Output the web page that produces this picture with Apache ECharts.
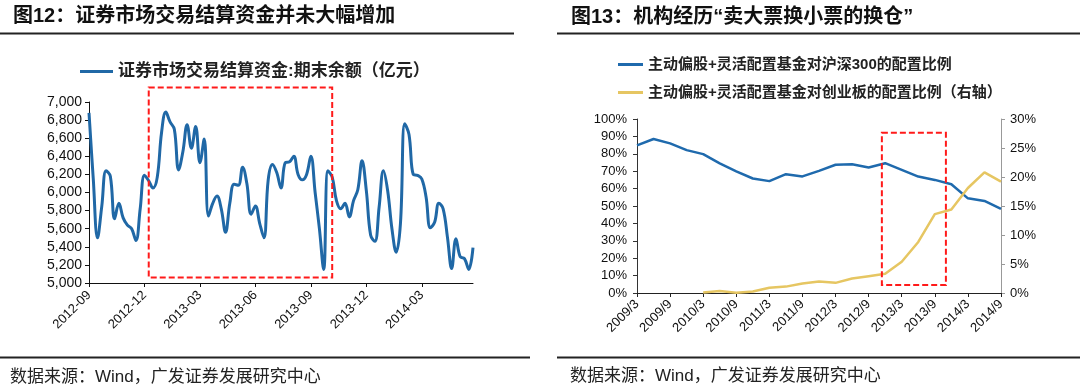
<!DOCTYPE html>
<html>
<head>
<meta charset="utf-8">
<script src="https://cdn.jsdelivr.net/npm/echarts@6/dist/echarts.min.js"></script>
<style>
html,body{margin:0;padding:0;background:#fff;}
#c{width:1080px;height:390px;}
</style>
</head>
<body>
<div id="c"></div>
<script>
// ---------- Data ----------
const weeks = [
  '2012-09-07','2012-09-14','2012-09-21','2012-09-28','2012-10-05','2012-10-12','2012-10-19','2012-10-26','2012-11-02','2012-11-09',
  '2012-11-16','2012-11-23','2012-11-30','2012-12-07','2012-12-14','2012-12-21','2012-12-28','2013-01-04','2013-01-11','2013-01-18',
  '2013-01-25','2013-02-01','2013-02-08','2013-02-15','2013-02-22','2013-03-01','2013-03-08','2013-03-15','2013-03-22','2013-03-29',
  '2013-04-05','2013-04-12','2013-04-19','2013-04-26','2013-05-03','2013-05-10','2013-05-17','2013-05-24','2013-05-31','2013-06-07',
  '2013-06-14','2013-06-21','2013-06-28','2013-07-05','2013-07-12','2013-07-19','2013-07-26','2013-08-02','2013-08-09','2013-08-16',
  '2013-08-23','2013-08-30','2013-09-06','2013-09-13','2013-09-20','2013-09-27','2013-10-04','2013-10-11','2013-10-18','2013-10-25',
  '2013-11-01','2013-11-08','2013-11-15','2013-11-22','2013-11-29','2013-12-06','2013-12-13','2013-12-20','2013-12-27','2014-01-03',
  '2014-01-10','2014-01-17','2014-01-24','2014-01-31','2014-02-07','2014-02-14','2014-02-21','2014-02-28','2014-03-07','2014-03-14',
  '2014-03-21','2014-03-28','2014-04-04','2014-04-11','2014-04-18','2014-04-25','2014-05-02','2014-05-09','2014-05-16','2014-05-23',
  '2014-05-30'
];
const settlementFunds = [
  6880, 6150, 5500, 5850, 6240, 6180, 5710, 5880, 5720, 5640,
  5600, 5470, 5820, 6190, 6130, 6050, 6170, 6660, 6890, 6780,
  6700, 6250, 6450, 6750, 6490, 6730, 6330, 6590, 5740, 5880,
  5960, 5820, 5560, 5880, 6090, 6080, 6280, 6100, 5760, 5850,
  5660, 5500, 6140, 6310, 6220, 6050, 6330, 6340, 6400, 6200,
  6140, 6200, 6400, 6000, 5600, 5150, 6240, 6170, 5910, 5820,
  5880, 5730, 5910, 6030, 6350, 6020, 5530, 5460, 5840, 6240,
  6020, 5600, 5340, 5660, 6760, 6640, 6200, 6190, 6150, 5950,
  5610, 5670, 5880, 5820, 5510, 5160, 5490, 5290, 5270, 5150,
  5390
];
const quarters = [
  '2009/3','2009/6','2009/9','2009/12','2010/3','2010/6','2010/9','2010/12',
  '2011/3','2011/6','2011/9','2011/12','2012/3','2012/6','2012/9','2012/12',
  '2013/3','2013/6','2013/9','2013/12','2014/3','2014/6','2014/9'
];
const hs300Share = [
  84.8, 88.5, 86.0, 82.1, 79.8, 74.5, 69.9, 65.8,
  64.3, 68.3, 67.0, 70.2, 73.7, 74.0, 72.1, 74.6,
  70.8, 66.9, 65.0, 62.5, 54.4, 52.9, 48.3
];
const gemShare = [
  null, null, null, null, 0.1, 0.35, 0.05, 0.25,
  0.9, 1.1, 1.65, 2.0, 1.75, 2.5, 2.9, 3.3,
  5.4, 8.8, 13.6, 14.4, 18.1, 20.8, 19.2
];
const fundsTickLabels = { min: 5000, max: 7000, step: 200 };
const leftPctTicks = { min: 0, max: 100, step: 10 };
const rightPctTicks = { min: 0, max: 30, step: 5 };
// highlighted windows (data space): [x from, x to, y low, y high]
const leftBox = [14, 57, 5060, 7160];
const rightBox = [14.8, 18.67, 4.6, 92.1];

const titleLeft = '图12：证券市场交易结算资金并未大幅增加';
const titleRight = '图13：机构经历“卖大票换小票的换仓”';
const nameFunds = '证券市场交易结算资金:期末余额（亿元）';
const nameHs300 = '主动偏股+灵活配置基金对沪深300的配置比例';
const nameGem = '主动偏股+灵活配置基金对创业板的配置比例（右轴）';
const sourceText = '数据来源：Wind，广发证券发展研究中心';

// ---------- Chart ----------
const FONT = "'Liberation Sans', 'Noto Sans CJK SC', sans-serif";
const chart = echarts.init(document.getElementById('c'));
const fmtThousands = v => String(v).replace(/\B(?=(\d{3})+(?!\d))/g, ',');
const axisText = { fontSize: 13, color: '#111', fontFamily: FONT };

function staticGraphics() {
  return [
    { type: 'text', x: 13, y: 16, style: { text: titleLeft, fontSize: 20, fontWeight: 'bold', fontFamily: FONT, fill: '#111', verticalAlign: 'middle' } },
    { type: 'text', x: 571, y: 17, style: { text: titleRight, fontSize: 20, fontWeight: 'bold', fontFamily: FONT, fill: '#111', verticalAlign: 'middle' } },
    { type: 'line', shape: { x1: 0, y1: 33.5, x2: 514, y2: 33.5 }, style: { stroke: '#222', lineWidth: 2 } },
    { type: 'line', shape: { x1: 557, y1: 33.5, x2: 1080, y2: 33.5 }, style: { stroke: '#222', lineWidth: 2 } },
    { type: 'line', shape: { x1: 0, y1: 357.5, x2: 530, y2: 357.5 }, style: { stroke: '#222', lineWidth: 2 } },
    { type: 'line', shape: { x1: 557, y1: 357.5, x2: 1080, y2: 357.5 }, style: { stroke: '#222', lineWidth: 2 } },
    { type: 'text', x: 10, y: 377, style: { text: sourceText, fontSize: 17, fontFamily: FONT, fill: '#222', verticalAlign: 'middle' } },
    { type: 'text', x: 570, y: 376, style: { text: sourceText, fontSize: 17, fontFamily: FONT, fill: '#222', verticalAlign: 'middle' } }
  ];
}

const option = {
  animation: false,
  backgroundColor: '#ffffff',
  grid: [
    { left: 89, top: 102, width: 384, height: 181 },
    { left: 637, top: 119, width: 364, height: 174 }
  ],
  legend: [
    {
      data: [nameFunds], left: 80, top: 63, padding: 0, icon: 'rect', itemWidth: 33, itemHeight: 3,
      textStyle: { fontSize: 17, fontWeight: 'bold', color: '#222', fontFamily: FONT }
    },
    {
      data: [nameHs300, nameGem], orient: 'vertical', left: 618, top: 57, padding: 0, icon: 'rect',
      itemWidth: 25, itemHeight: 3, itemGap: 13,
      textStyle: { fontSize: 15, fontWeight: 'bold', color: '#222', fontFamily: FONT }
    }
  ],
  xAxis: [
    {
      gridIndex: 0, type: 'category', data: weeks, boundaryGap: false,
      axisLine: { lineStyle: { color: '#111', width: 1 } },
      axisTick: { interval: 12, length: 4, lineStyle: { color: '#111' } },
      axisLabel: Object.assign({ interval: 12, rotate: 45, margin: 10, formatter: v => v.slice(0, 7) }, axisText)
    },
    {
      gridIndex: 1, type: 'category', data: quarters, boundaryGap: false,
      axisLine: { lineStyle: { color: '#222', width: 1 } },
      axisTick: { interval: 1, length: 4, lineStyle: { color: '#222' } },
      axisLabel: Object.assign({ interval: 1, rotate: 45, margin: 9 }, axisText)
    }
  ],
  yAxis: [
    {
      gridIndex: 0, type: 'value', min: fundsTickLabels.min, max: fundsTickLabels.max, interval: fundsTickLabels.step,
      axisLine: { show: true, lineStyle: { color: '#111', width: 1 } },
      axisTick: { show: true, length: 4, lineStyle: { color: '#111' } },
      splitLine: { show: false },
      axisLabel: Object.assign({}, axisText, { margin: 7, fontSize: 14, formatter: fmtThousands })
    },
    {
      gridIndex: 1, type: 'value', min: leftPctTicks.min, max: leftPctTicks.max, interval: leftPctTicks.step,
      axisLine: { show: true, lineStyle: { color: '#333', width: 1 } },
      axisTick: { show: true, length: 4, lineStyle: { color: '#333' } },
      splitLine: { show: false },
      axisLabel: Object.assign({ margin: 10, formatter: '{value}%' }, axisText)
    },
    {
      gridIndex: 1, type: 'value', position: 'right', min: rightPctTicks.min, max: rightPctTicks.max, interval: rightPctTicks.step,
      axisLine: { show: true, lineStyle: { color: '#999', width: 1 } },
      axisTick: { show: true, length: 4, lineStyle: { color: '#999' } },
      splitLine: { show: false },
      axisLabel: Object.assign({ margin: 9, formatter: '{value}%' }, axisText)
    }
  ],
  series: [
    {
      name: nameFunds, type: 'line', xAxisIndex: 0, yAxisIndex: 0, data: settlementFunds,
      smooth: 0.4, symbol: 'none', lineStyle: { color: '#2068a6', width: 3 }, itemStyle: { color: '#2068a6' }
    },
    {
      name: nameHs300, type: 'line', xAxisIndex: 1, yAxisIndex: 1, data: hs300Share,
      symbol: 'none', lineStyle: { color: '#1f6aad', width: 2.5 }, itemStyle: { color: '#1f6aad' }
    },
    {
      name: nameGem, type: 'line', xAxisIndex: 1, yAxisIndex: 2, data: gemShare,
      symbol: 'none', connectNulls: false, lineStyle: { color: '#e6c662', width: 2.5 }, itemStyle: { color: '#e6c662' }
    }
  ],
  graphic: staticGraphics()
};
chart.setOption(option);

// dashed highlight boxes placed through the axes' own scales
function catPixel(axisIndex, pos) {
  const i0 = Math.floor(pos), i1 = Math.ceil(pos);
  const p0 = chart.convertToPixel({ xAxisIndex: axisIndex }, i0);
  const p1 = chart.convertToPixel({ xAxisIndex: axisIndex }, i1);
  return p0 + (p1 - p0) * (pos - i0);
}
function boxGraphic(xAxisIndex, yAxisIndex, box) {
  const xa = catPixel(xAxisIndex, box[0]);
  const xb = catPixel(xAxisIndex, box[1]);
  const ya = chart.convertToPixel({ yAxisIndex: yAxisIndex }, box[3]);
  const yb = chart.convertToPixel({ yAxisIndex: yAxisIndex }, box[2]);
  return {
    type: 'rect', z: 10,
    shape: { x: xa, y: ya, width: xb - xa, height: yb - ya },
    style: { fill: 'rgba(0,0,0,0)', stroke: '#ff1a1a', lineWidth: 2, lineDash: [6, 3] }
  };
}
chart.setOption({
  graphic: staticGraphics().concat([boxGraphic(0, 0, leftBox), boxGraphic(1, 1, rightBox)])
});
</script>
</body>
</html>
